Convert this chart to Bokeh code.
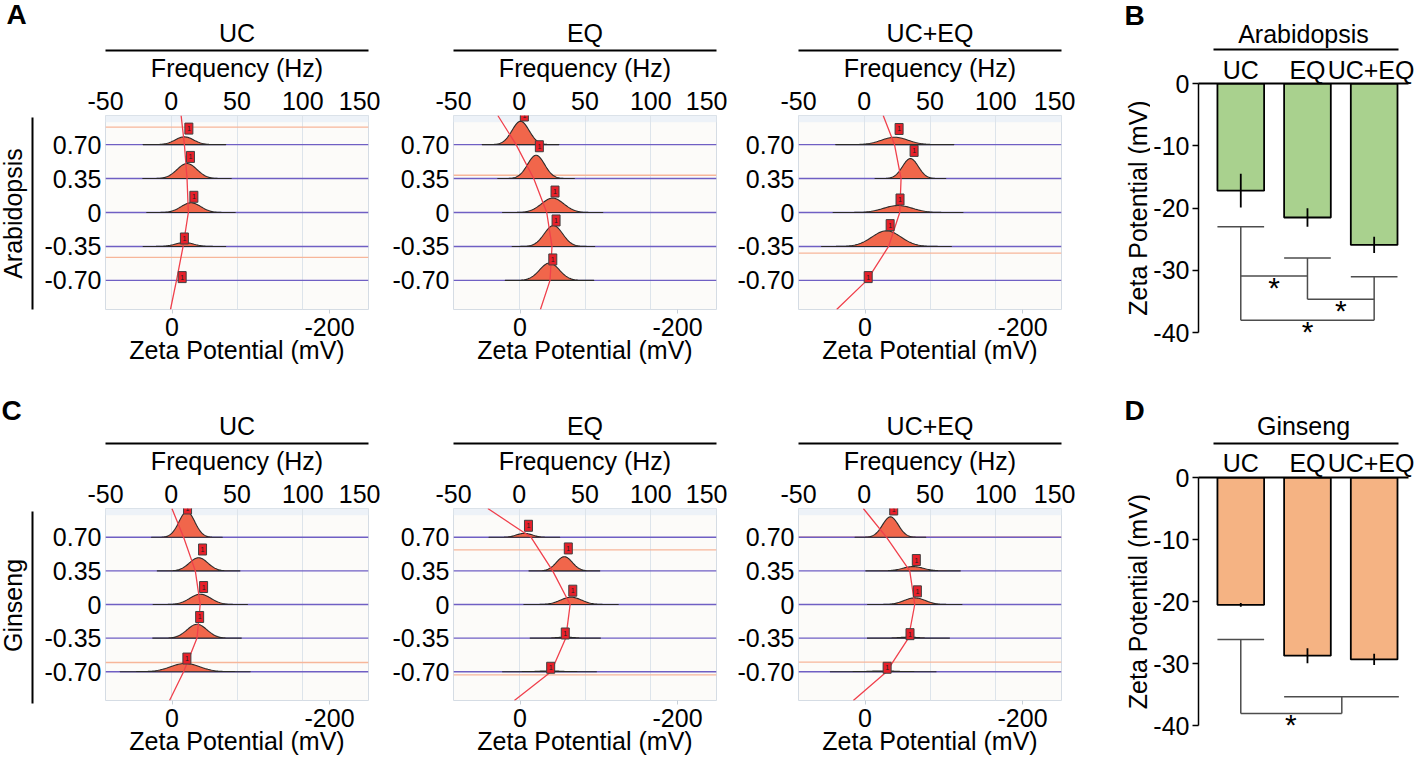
import numpy as np
from bokeh.plotting import figure
from bokeh.models import Range1d, LinearAxis, FixedTicker, Span, BoxAnnotation, Grid
from bokeh.layouts import row, column
from bokeh.embed import file_html
from bokeh.resources import INLINE
from bokeh.core.properties import value

FONT = "Liberation Sans"
FS = "25px"

# ---------------- data ----------------
groups = ["UC", "EQ", "UC+EQ"]
species = ["Arabidopsis", "Ginseng"]
panel_letters = ["A", "B", "C", "D"]
field_rows = [0.70, 0.35, 0.0, -0.35, -0.70]
field_labels = ["0.70", "0.35", "0", "-0.35", "-0.70"]
freq_ticks = [-50, 0, 50, 100, 150]
freq_labels = ["-50", "0", "50", "100", "150"]
zeta_ticks = [0, -200]
zeta_labels = ["0", "-200"]
fit_y = [1.0, 0.70, 0.35, 0.0, -0.35, -0.70, -1.0]

# Arabidopsis spectra
ara_uc_peak_hz = [10, 12, 15, 10, 8]
ara_uc_peak_h = [0.08, 0.155, 0.10, 0.04, 0.0]
ara_uc_peak_w = [7, 7.5, 7.5, 7, 7]
ara_uc_mark_hz = [13.4, 14.6, 17.2, 10.0, 8.3]
ara_uc_mark_y = [0.865, 0.573, 0.162, -0.268, -0.666]
ara_uc_fit_hz = [7.5, 10, 12, 13, 9, 4, -0.6]
ara_uc_ref_y = [0.88, -0.463]

ara_eq_peak_hz = [1, 12.8, 25.4, 26, 23]
ara_eq_peak_h = [0.24, 0.24, 0.148, 0.216, 0.179]
ara_eq_peak_w = [6.5, 6.5, 8.5, 7, 7.5]
ara_eq_mark_hz = [3.9, 15.3, 27.2, 28, 25.5]
ara_eq_mark_y = [1.0, 0.683, 0.216, -0.082, -0.484]
ara_eq_fit_hz = [-16.3, -2.4, 11.0, 20.9, 24.9, 23.4, 16.1]
ara_eq_ref_y = [0.384]

ara_ue_peak_hz = [23.2, 35.1, 25.7, 16.9, 3]
ara_ue_peak_h = [0.076, 0.206, 0.072, 0.161, 0.0]
ara_ue_peak_w = [10, 6, 11, 11, 8]
ara_ue_mark_hz = [26.5, 37.9, 27.2, 19.7, 3.0]
ara_ue_mark_y = [0.861, 0.635, 0.134, -0.13, -0.666]
ara_ue_fit_hz = [14.4, 23, 28, 27, 18.5, 2, -21]
ara_ue_ref_y = [-0.419]

# Ginseng spectra
gin_uc_peak_hz = [11.9, 20.8, 22.1, 19.6, 10.6]
gin_uc_peak_h = [0.268, 0.137, 0.107, 0.144, 0.086]
gin_uc_peak_w = [6, 7, 8, 7.5, 11]
gin_uc_mark_hz = [12.4, 23.8, 24.6, 21.6, 11.9]
gin_uc_mark_y = [1.0, 0.573, 0.182, -0.13, -0.563]
gin_uc_fit_hz = [0.5, 9.4, 18.3, 22, 19.6, 9.4, -1.3]
gin_uc_ref_y = [-0.604]

gin_eq_peak_hz = [3.9, 34.3, 39.4, 35, 23]
gin_eq_peak_h = [0.041, 0.148, 0.076, 0.01, 0.008]
gin_eq_peak_w = [6, 6, 8, 6, 8]
gin_eq_mark_hz = [7.0, 37.3, 40.7, 35.0, 23.9]
gin_eq_mark_y = [0.82, 0.584, 0.144, -0.302, -0.659]
gin_eq_fit_hz = [-23.9, 9, 25.4, 38.7, 35.4, 24.2, -3.7]
gin_eq_ref_y = [0.569, -0.734]

gin_ue_peak_hz = [19.9, 37.1, 38.4, 33.6, 14.4]
gin_ue_peak_h = [0.213, 0.045, 0.069, 0.01, 0.008]
gin_ue_peak_w = [6, 8, 8, 7, 9]
gin_ue_mark_hz = [22.4, 39.6, 40.4, 34.8, 17.4]
gin_ue_mark_y = [0.99, 0.463, 0.137, -0.309, -0.659]
gin_ue_fit_hz = [-0.7, 17, 34.6, 38.4, 33.6, 17, -8.3]
gin_ue_ref_y = [0.705, -0.60]

# bar charts
zeta_bar_ticks = [0, -10, -20, -30, -40]
zeta_bar_labels = ["0", "-10", "-20", "-30", "-40"]
ara_mean = [-17.2, -21.5, -25.9]
ara_sd = [2.7, 1.5, 1.3]
gin_mean = [-20.5, -28.7, -29.3]
gin_sd = [0.3, 1.2, 0.9]

# significance brackets (x in bar index units, y in mV)
ara_cap_x0 = [0.65, 1.65, 2.65]
ara_cap_x1 = [1.35, 2.35, 3.35]
ara_cap_y = [-23.0, -28.0, -31.0]
ara_leg_x = [1, 2, 3]
ara_leg_top = [-23.0, -28.0, -31.0]
ara_leg_bot = [-38.0, -34.6, -38.0]
ara_link_x0 = [1, 2, 1]
ara_link_x1 = [2, 3, 3]
ara_link_y = [-30.9, -34.6, -38.0]
ara_star_x = [1.5, 2.5, 2.0]

gin_cap_x0 = [0.65, 1.65]
gin_cap_x1 = [1.35, 3.37]
gin_cap_y = [-26.1, -35.3]
gin_leg_x = [1, 2.515]
gin_leg_top = [-26.1, -35.3]
gin_leg_bot = [-38.0, -38.0]
gin_link_x0 = [1]
gin_link_x1 = [2.515]
gin_link_y = [-38.0]
gin_star_x = [1.75]


def style_text_axis(ax):
    ax.major_label_text_font = FONT
    ax.major_label_text_font_size = FS
    ax.major_label_text_color = "black"
    ax.axis_label_text_font = FONT
    ax.axis_label_text_font_size = FS
    ax.axis_label_text_font_style = "normal"
    ax.axis_label_text_color = "black"
    ax.minor_tick_line_color = None


def line_axis(label, standoff, bounds=None):
    ax = LinearAxis(ticker=FixedTicker(ticks=[]), axis_label=label,
                    axis_label_standoff=standoff)
    style_text_axis(ax)
    ax.axis_line_color = "black"
    ax.axis_line_width = 2
    ax.major_tick_line_color = None
    ax.major_tick_out = 0
    ax.major_tick_in = 0
    if bounds is not None:
        ax.bounds = bounds
    return ax


def side_strip(width, height, letter, letter_x, letter_y, side_text, side_x, side_y,
               rule_x=None, rule_y0=None, rule_y1=None):
    """Narrow strip (pixel coordinates, y downward) holding a panel letter and a side title."""
    p = figure(width=width, height=height, x_range=Range1d(0, width), y_range=Range1d(height, 0),
               x_axis_location=None, y_axis_location=None, output_backend="svg",
               toolbar_location=None, min_border=0, min_border_left=0, min_border_right=0,
               min_border_top=0, min_border_bottom=0, outline_line_color=None,
               background_fill_color="white", border_fill_color="white")
    p.frame_align = False
    for g in p.grid:
        g.visible = False
    p.text(x=[letter_x], y=[letter_y], text=[letter], text_font=value(FONT),
           text_font_size="28px", text_font_style="bold", text_align="left",
           text_baseline="middle", text_color="black")
    p.text(x=[side_x], y=[side_y], text=[side_text], text_font=value(FONT),
           text_font_size=FS, text_align="center", text_baseline="middle",
           angle=np.pi / 2, text_color="black")
    if rule_x is not None:
        p.segment(x0=[rule_x], x1=[rule_x], y0=[rule_y0], y1=[rule_y1],
                  line_color="black", line_width=2)
    return p


def spectrum(width, height, bl, br, bt, bb, title, peak_hz, peak_h, peak_w,
             mark_hz, mark_y, fit_hz, ref_y):
    p = figure(width=width, height=height, x_range=Range1d(-50, 150), y_range=Range1d(-1, 1),
               x_axis_location=None, y_axis_location=None, output_backend="svg",
               toolbar_location=None, min_border_left=bl, min_border_right=br,
               min_border_top=bt, min_border_bottom=bb, background_fill_color="#fcfbf9",
               border_fill_color="white", outline_line_color="#d5dce4")
    p.frame_align = False
    p.extra_x_ranges = {"zeta": Range1d(84.5, -249.5)}
    for g in p.grid:
        g.visible = False
    p.add_layout(BoxAnnotation(bottom=0.93, fill_color="#edf2f8", fill_alpha=1.0,
                               line_color=None, level="underlay"))
    p.add_layout(Grid(dimension=0, ticker=FixedTicker(ticks=[0, 50, 100]),
                      grid_line_color="#dde4eb", grid_line_width=1))
    for y in ref_y:
        p.add_layout(Span(location=y, dimension="width", line_color="#f7b69a",
                          line_width=1.3, level="underlay"))
    for r in field_rows:
        p.add_layout(Span(location=r, dimension="width", line_color="#6f5fc4",
                          line_width=1.4, level="underlay"))
    xs_list, ys_list = [], []
    for r, c, h, w in zip(field_rows, peak_hz, peak_h, peak_w):
        if h <= 0:
            continue
        xx = np.linspace(c - 4.5 * w, c + 4.5 * w, 90)
        yy = r + h * np.exp(-0.5 * ((xx - c) / w) ** 2)
        xs_list.append(list(xx) + [xx[-1], xx[0]])
        ys_list.append(list(yy) + [r, r])
    p.patches(xs_list, ys_list, fill_color="#f1664b", line_color="#2a2a2a", line_width=1.1)
    p.line(fit_hz, fit_y, line_color="#f0404c", line_width=1.3)
    p.rect(x=mark_hz, y=mark_y, width=8, height=11, width_units="screen",
           height_units="screen", fill_color="#e8202a", line_color="#404040", line_width=1)
    p.text(x=mark_hz, y=mark_y, text=["1"] * len(mark_hz), text_font_size="7px",
           text_align="center", text_baseline="middle", text_color="#222222")

    # top frequency axis
    fa = LinearAxis(ticker=FixedTicker(ticks=freq_ticks), axis_label="Frequency (Hz)",
                    major_label_overrides=dict(zip(freq_ticks, freq_labels)),
                    major_label_standoff=6, axis_label_standoff=7)
    style_text_axis(fa)
    fa.axis_line_color = None
    fa.major_tick_line_color = None
    fa.major_tick_out = 0
    fa.major_tick_in = 0
    p.add_layout(fa, "above")
    p.add_layout(line_axis(title, 4), "above")

    # bottom zeta axis
    za = LinearAxis(x_range_name="zeta", ticker=FixedTicker(ticks=zeta_ticks),
                    major_label_overrides=dict(zip(zeta_ticks, zeta_labels)),
                    axis_label="Zeta Potential (mV)", major_label_standoff=4,
                    axis_label_standoff=-3)
    style_text_axis(za)
    za.axis_line_color = None
    za.major_tick_line_color = "#c8d0d8"
    za.major_tick_out = 4
    za.major_tick_in = 0
    p.add_layout(za, "below")

    # left field axis
    la = LinearAxis(ticker=FixedTicker(ticks=field_rows),
                    major_label_overrides=dict(zip(field_rows, field_labels)),
                    major_label_standoff=4)
    style_text_axis(la)
    la.axis_line_color = None
    la.major_tick_line_color = None
    la.major_tick_out = 0
    la.major_tick_in = 0
    p.add_layout(la, "left")
    return p


def bars(width, height, bl, br, bt, bb, title, means, sds, color,
         cap_x0, cap_x1, cap_y, leg_x, leg_top, leg_bot, link_x0, link_x1, link_y, star_x,
         lab_standoff, spacer, title_standoff, xmax):
    p = figure(width=width, height=height, x_range=Range1d(0.366, xmax),
               y_range=Range1d(-43, 0), x_axis_location=None, y_axis_location=None,
               output_backend="svg", toolbar_location=None, min_border_left=bl,
               min_border_right=br, min_border_top=bt, min_border_bottom=bb,
               outline_line_color=None, background_fill_color="white",
               border_fill_color="white")
    p.frame_align = False
    for g in p.grid:
        g.visible = False
    xs = list(range(1, len(groups) + 1))
    p.vbar(x=xs, bottom=means, top=0, width=0.7, fill_color=color, line_color="black",
           line_width=1.8)
    p.segment(x0=xs, x1=xs, y0=[m + s for m, s in zip(means, sds)],
              y1=[m - s for m, s in zip(means, sds)], line_color="black", line_width=1.8)
    gray = "#4d4d4d"
    p.segment(x0=cap_x0, x1=cap_x1, y0=cap_y, y1=cap_y, line_color=gray, line_width=1.5)
    p.segment(x0=leg_x, x1=leg_x, y0=leg_top, y1=leg_bot, line_color=gray, line_width=1.5)
    p.segment(x0=link_x0, x1=link_x1, y0=link_y, y1=link_y, line_color=gray, line_width=1.5)
    p.text(x=star_x, y=link_y, text=["*"] * len(star_x), text_font=value(FONT),
           text_font_size="30px", text_align="center", text_baseline="top",
           y_offset=-5, text_color="black")

    la = LinearAxis(ticker=FixedTicker(ticks=zeta_bar_ticks),
                    major_label_overrides=dict(zip(zeta_bar_ticks, zeta_bar_labels)),
                    major_label_standoff=3, bounds=(-40, 0))
    style_text_axis(la)
    la.axis_line_color = "black"
    la.axis_line_width = 1.5
    la.major_tick_line_color = "black"
    la.major_tick_line_width = 1.5
    la.major_tick_out = 6
    la.major_tick_in = 0
    p.add_layout(la, "left")

    ta = LinearAxis(ticker=FixedTicker(ticks=xs),
                    major_label_overrides=dict(zip(xs, groups)),
                    major_label_standoff=lab_standoff, axis_label=" ",
                    axis_label_standoff=spacer)
    style_text_axis(ta)
    ta.axis_label_text_font_size = "1px"
    ta.axis_line_color = "black"
    ta.axis_line_width = 2
    ta.major_tick_line_color = None
    ta.major_tick_out = 0
    ta.major_tick_in = 0
    p.add_layout(ta, "above")
    p.add_layout(line_axis(title, title_standoff, bounds=(0.59, 3.37)), "above")
    return p


H1, H2 = 380, 377
s1 = side_strip(40, H1, panel_letters[0], 6, 14, species[0], 12, 213, 32, 117, 309)
f1 = spectrum(340, H1, 65, 12, 115, 71, groups[0], ara_uc_peak_hz, ara_uc_peak_h, ara_uc_peak_w,
              ara_uc_mark_hz, ara_uc_mark_y, ara_uc_fit_hz, ara_uc_ref_y)
f2 = spectrum(347, H1, 73, 11, 115, 71, groups[1], ara_eq_peak_hz, ara_eq_peak_h, ara_eq_peak_w,
              ara_eq_mark_hz, ara_eq_mark_y, ara_eq_fit_hz, ara_eq_ref_y)
f3 = spectrum(348, H1, 71, 14, 115, 71, groups[2], ara_ue_peak_hz, ara_ue_peak_h, ara_ue_peak_w,
              ara_ue_mark_hz, ara_ue_mark_y, ara_ue_fit_hz, ara_ue_ref_y)
s4 = side_strip(75, H1, panel_letters[1], 49, 15, "Zeta Potential (mV)", 62, 207.5)
f4 = bars(264, H1, 47, 6, 83, 29, species[0], ara_mean, ara_sd, "#a9d18e",
          ara_cap_x0, ara_cap_x1, ara_cap_y, ara_leg_x, ara_leg_top, ara_leg_bot,
          ara_link_x0, ara_link_x1, ara_link_y, ara_star_x, 0, -1, 2, 3.515)

s5 = side_strip(40, H2, panel_letters[2], 1, 30, species[1], 12, 225, 32, 131, 323)
f5 = spectrum(340, H2, 65, 12, 128, 57, groups[0], gin_uc_peak_hz, gin_uc_peak_h, gin_uc_peak_w,
              gin_uc_mark_hz, gin_uc_mark_y, gin_uc_fit_hz, gin_uc_ref_y)
f6 = spectrum(347, H2, 73, 11, 128, 57, groups[1], gin_eq_peak_hz, gin_eq_peak_h, gin_eq_peak_w,
              gin_eq_mark_hz, gin_eq_mark_y, gin_eq_fit_hz, gin_eq_ref_y)
f7 = spectrum(348, H2, 71, 14, 128, 57, groups[2], gin_ue_peak_hz, gin_ue_peak_h, gin_ue_peak_w,
              gin_ue_mark_hz, gin_ue_mark_y, gin_ue_fit_hz, gin_ue_ref_y)
s8 = side_strip(75, H2, panel_letters[3], 49, 29.5, "Zeta Potential (mV)", 62, 221)
f8 = bars(264, H2, 47, 6, 97, 13, species[1], gin_mean, gin_sd, "#f5b383",
          gin_cap_x0, gin_cap_x1, gin_cap_y, gin_leg_x, gin_leg_top, gin_leg_bot,
          gin_link_x0, gin_link_x1, gin_link_y, gin_star_x, 1, -2, 4, 3.515)

layout = column(row(s1, f1, f2, f3, s4, f4), row(s5, f5, f6, f7, s8, f8))
open("out.html", "w").write(file_html(layout, INLINE))
